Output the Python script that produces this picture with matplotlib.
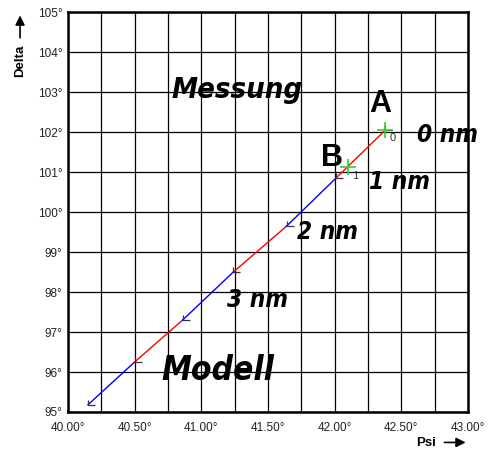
import matplotlib
matplotlib.use("Agg")
import matplotlib.pyplot as plt
from matplotlib.path import Path

# model line points (Psi, Delta), from thickest layer down to 0 nm
psi = [40.15, 40.50, 40.86, 41.24, 41.64, 42.01, 42.38]
delta = [95.18, 96.25, 97.30, 98.50, 99.65, 100.85, 102.05]
seg_colors = ["blue", "red", "blue", "red", "blue", "red"]

# measured points A and B
meas_psi = [42.38, 42.10]
meas_delta = [102.05, 101.12]
meas_labels = ["0", "1"]

thick_labels = ["0 nm", "1 nm", "2 nm", "3 nm"]
thick_pos = [(42.85, 101.93), (42.49, 100.75), (41.95, 99.5), (41.42, 97.8)]

plt.rcParams["font.family"] = ["Liberation Sans", "DejaVu Sans"]

fig = plt.figure(figsize=(4.89, 4.51), dpi=100)
ax = fig.add_axes([0.139, 0.0865, 0.818, 0.8865])

ax.set_xlim(40, 43)
ax.set_ylim(95, 105)
ax.set_xticks([40 + 0.25 * i for i in range(13)], minor=True)
ax.set_xticks([40 + 0.5 * i for i in range(7)])
ax.set_xticklabels(["%.2f°" % v for v in ax.get_xticks()])
ax.set_yticks(range(95, 106))
ax.set_yticklabels(["%d°" % v for v in range(95, 106)])
ax.grid(True, which="both", color="black", linewidth=0.9)
ax.tick_params(which="both", length=0, labelsize=8.5, labelcolor="#222222")
ax.tick_params(axis="x", pad=7)
ax.tick_params(axis="y", pad=4)
for s in ax.spines.values():
    s.set_linewidth(1.8)

# model segments in alternating colours
for i in range(len(psi) - 1):
    ax.plot(psi[i:i + 2], delta[i:i + 2], color=seg_colors[i], linewidth=1, zorder=3)

lmark = Path([(0, 0.9), (0, 0), (1.2, 0)], [Path.MOVETO, Path.LINETO, Path.LINETO])
ax.plot(psi, delta, linestyle="none", marker=lmark, markersize=10,
        markerfacecolor="none", markeredgecolor="#333333", markeredgewidth=0.9, zorder=4)

ax.plot(meas_psi, meas_delta, linestyle="none", marker="+", markersize=11,
        color="#33cc33", markeredgewidth=1.2, zorder=5)
for x, y, t in zip(meas_psi, meas_delta, meas_labels):
    ax.text(x + 0.03, y - 0.08, t, fontsize=8, color="#333333", va="top", ha="left", zorder=6)

ax.text(42.34, 102.7, "A", fontsize=22, fontweight="bold", ha="center", va="center", zorder=6)
ax.text(41.98, 101.35, "B", fontsize=22, fontweight="bold", ha="center", va="center", zorder=6)

big = dict(family=["DejaVu Sans"], fontstretch="condensed", fontweight="bold",
           style="italic", ha="center", va="center", zorder=6, clip_on=False)
for t, (x, y) in zip(thick_labels, thick_pos):
    ax.text(x, y, t, fontsize=17.5, **big)
ax.text(41.27, 103.05, "Messung", fontsize=21, **big)
ax.text(41.125, 96.05, "Modell", fontsize=24, **big)

# axis names with arrows
fig.text(0.041, 0.865, "Delta", rotation=90, fontsize=9.5, fontweight="bold", ha="center", va="center")
fig.add_artist(matplotlib.patches.FancyArrowPatch((0.041, 0.91), (0.041, 0.972),
               transform=fig.transFigure, arrowstyle="-|>", mutation_scale=14, color="black", lw=1.2))
fig.text(0.871, 0.017, "Psi", fontsize=9.5, fontweight="bold", ha="center", va="center")
fig.add_artist(matplotlib.patches.FancyArrowPatch((0.903, 0.019), (0.958, 0.019),
               transform=fig.transFigure, arrowstyle="-|>", mutation_scale=14, color="black", lw=1.2))

fig.savefig("out.png", dpi=100)
